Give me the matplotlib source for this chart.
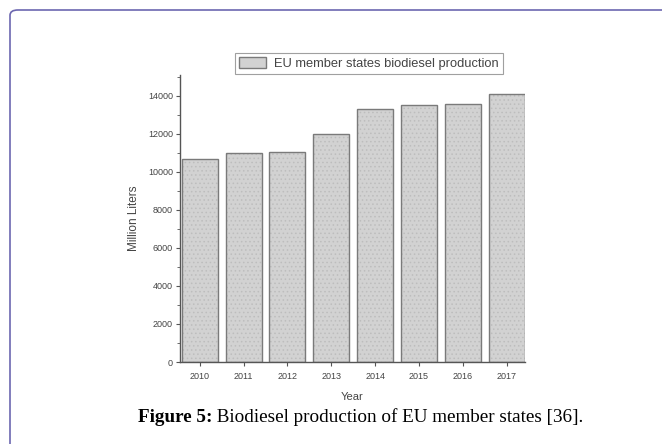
import matplotlib.pyplot as plt
from matplotlib.patches import FancyBboxPatch
from matplotlib.ticker import MultipleLocator

# data
years = ["2010", "2011", "2012", "2013", "2014", "2015", "2016", "2017"]
production = [10700, 11000, 11050, 12000, 13300, 13500, 13600, 14100]
legend_label = "EU member states biodiesel production"

plt.rcParams["font.family"] = ["Liberation Sans", "DejaVu Sans"]
plt.rcParams["hatch.linewidth"] = 0.6

fig = plt.figure(figsize=(6.62, 4.44), dpi=100)

# rounded purple frame around the figure area
frame = FancyBboxPatch((10 / 662, -0.2), 1.2, 1.2 - 10 / 444,
                       boxstyle="round,pad=0,rounding_size=0.012",
                       transform=fig.transFigure, facecolor="none",
                       edgecolor="#6c67b0", linewidth=1.2)
fig.patches.append(frame)

ax = fig.add_axes([180 / 662, 1 - 362 / 444, 345 / 662, 287 / 444])
x = range(len(years))

# hatched fill, then outline
ax.bar(x, production, width=0.82, color="#d2d2d2", edgecolor="#bdbdbd",
       hatch="....", linewidth=0)
bars = ax.bar(x, production, width=0.82, color="none", edgecolor="#7a7a7a",
              linewidth=1.0, label=legend_label)

ax.set_xlim(-0.45, 7.42)
ax.set_ylim(0, 15100)
ax.set_xticks(list(x))
ax.set_xticklabels(years)
ax.yaxis.set_major_locator(MultipleLocator(2000))
ax.yaxis.set_minor_locator(MultipleLocator(1000))

for side in ["top", "right"]:
    ax.spines[side].set_visible(False)
for side in ["left", "bottom"]:
    ax.spines[side].set_color("#555555")
    ax.spines[side].set_linewidth(1.0)

ax.tick_params(axis="both", which="major", labelsize=6.5, length=3,
               width=0.8, color="#555555", labelcolor="#444444", pad=2)
ax.tick_params(axis="x", which="major", pad=4)
ax.tick_params(axis="y", which="minor", length=2, width=0.6, color="#555555")

ax.set_xlabel("Year", fontsize=8, color="#444444", labelpad=8)
ax.set_ylabel("Million Liters", fontsize=8.5, color="#444444", labelpad=6)

leg = ax.legend(handles=[bars], loc="lower center",
                bbox_to_anchor=(369 / 345 - 180 / 345, 1.0), fontsize=9.3,
                frameon=True, fancybox=False, edgecolor="#888888",
                handlelength=2.1, handleheight=0.9, borderpad=0.3,
                handletextpad=0.6, borderaxespad=0.1,
                labelcolor="#444444")
leg.get_frame().set_linewidth(0.8)
leg.legend_handles[0].set_facecolor("#d2d2d2")

# caption with bold prefix
t1 = fig.text(138 / 662, 1 - 422 / 444, "Figure 5:", family="Liberation Serif",
              fontsize=13.8, fontweight="bold", color="black", va="baseline")
ax.annotate(" Biodiesel production of EU member states [36].",
            xy=(1, 0), xycoords=t1, va="bottom", ha="left",
            family="Liberation Serif", fontsize=13.8, color="black",
            annotation_clip=False)

fig.savefig("out.png", dpi=100)
